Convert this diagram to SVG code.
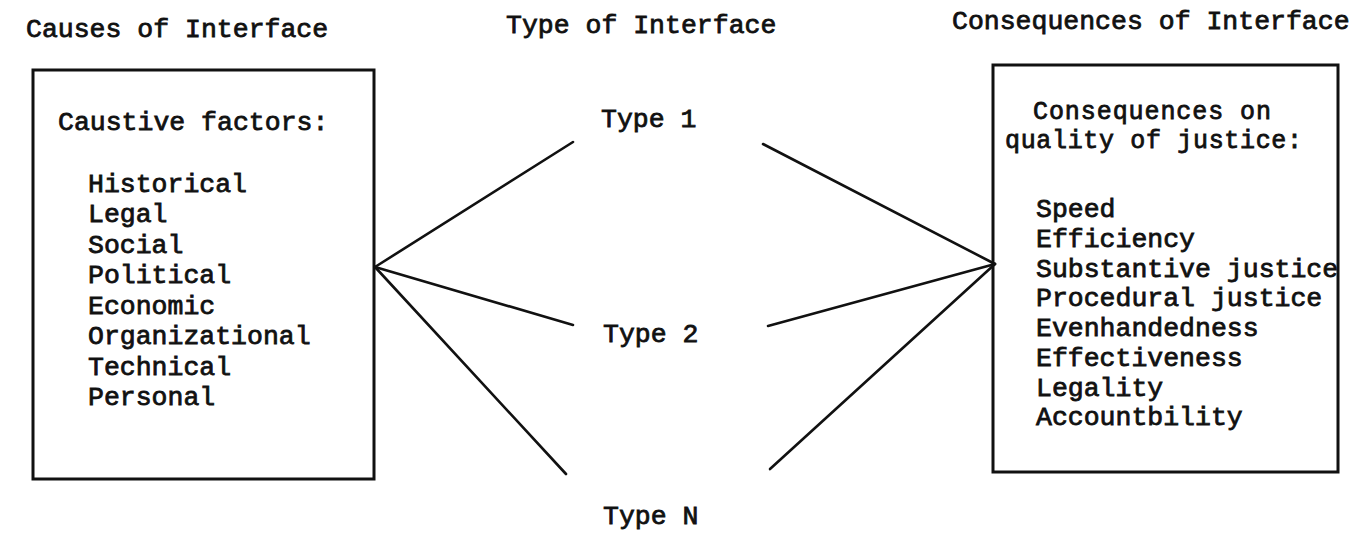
<svg xmlns="http://www.w3.org/2000/svg" width="1360" height="538" viewBox="0 0 1360 538">
<style>
text{font-family:"Liberation Mono","Courier New",monospace;font-size:26.5px;fill:#111;stroke:#111;stroke-width:0.8px}
.tight{font-size:25px}
.box{fill:none;stroke:#111;stroke-width:3}
.conn line{stroke:#111;stroke-width:2.6;stroke-linecap:round}
</style>
<rect width="1360" height="538" fill="#fff"/>
<g id="headers">
<text x="26" y="37">Causes of Interface</text>
<text x="506" y="33">Type of Interface</text>
<text x="952" y="29">Consequences of Interface</text>
</g>
<g id="causes">
<rect class="box" x="33" y="70" width="341" height="409"/>
<text x="58" y="130">Caustive factors:</text>
<text x="88" y="192">Historical</text>
<text x="88" y="222">Legal</text>
<text x="88" y="253">Social</text>
<text x="88" y="283">Political</text>
<text x="88" y="314">Economic</text>
<text x="88" y="344">Organizational</text>
<text x="88" y="375">Technical</text>
<text x="88" y="405">Personal</text>
</g>
<g id="type1"><text x="601" y="127">Type 1</text></g>
<g id="type2"><text x="603" y="342">Type 2</text></g>
<g id="typeN"><text x="603" y="524">Type N</text></g>
<g id="consequences">
<rect class="box" x="993" y="65" width="345" height="407"/>
<text class="tight" x="1033" y="119" textLength="238">Consequences on</text>
<text class="tight" x="1005" y="148" textLength="297">quality of justice:</text>
<text x="1036" y="217">Speed</text>
<text x="1036" y="247">Efficiency</text>
<text x="1036" y="277">Substantive justice</text>
<text x="1036" y="306">Procedural justice</text>
<text x="1036" y="336">Evenhandedness</text>
<text x="1036" y="366">Effectiveness</text>
<text x="1036" y="396">Legality</text>
<text x="1036" y="425">Accountbility</text>
</g>
<g id="connectors" class="conn">
<line x1="375" y1="267" x2="573" y2="142"/>
<line x1="375" y1="267" x2="573" y2="325"/>
<line x1="375" y1="267" x2="566" y2="474"/>
<line x1="763" y1="144" x2="995" y2="264"/>
<line x1="768" y1="326" x2="995" y2="264"/>
<line x1="770" y1="469" x2="995" y2="264"/>
</g>
</svg>
